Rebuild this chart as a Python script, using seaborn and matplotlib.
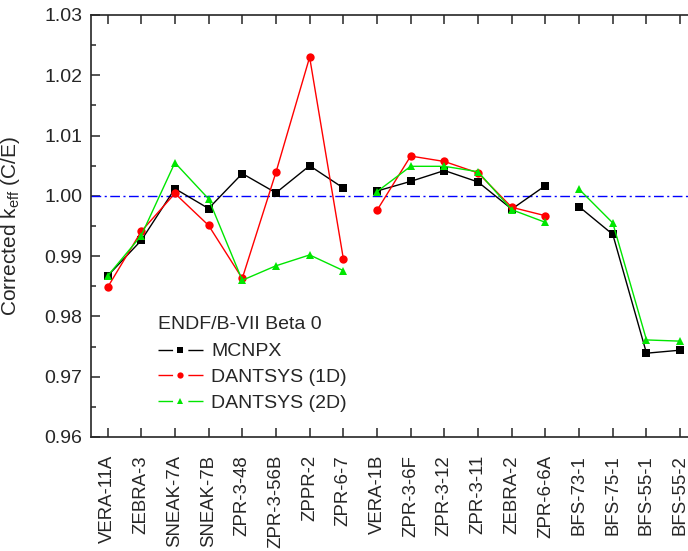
import numpy as np
import pandas as pd
import matplotlib
matplotlib.use("Agg")
import matplotlib.pyplot as plt
from matplotlib.lines import Line2D
from matplotlib.ticker import MultipleLocator
import seaborn as sns

# benchmark cases, in plotting order
cases = ["VERA-11A", "ZEBRA-3", "SNEAK-7A", "SNEAK-7B", "ZPR-3-48", "ZPR-3-56B",
         "ZPPR-2", "ZPR-6-7", "VERA-1B", "ZPR-3-6F", "ZPR-3-12", "ZPR-3-11",
         "ZEBRA-2", "ZPR-6-6A", "BFS-73-1", "BFS-75-1", "BFS-55-1", "BFS-55-2"]
# lines are broken between these groups
groups = [0] * 8 + [1] * 6 + [2] * 4

mcnpx = [0.9867, 0.9926, 1.0012, 0.9979, 1.0037, 1.0005, 1.0050, 1.0013,
         1.0008, 1.0024, 1.0042, 1.0023, 0.9978, 1.0017,
         0.9982, 0.9936, 0.9739, 0.9744]
dantsys_1d = [0.9848, 0.9941, 1.0004, 0.9951, 0.9863, 1.0039, 1.0230, 0.9896,
              0.9976, 1.0066, 1.0057, 1.0038, 0.9981, 0.9967,
              None, None, None, None]
dantsys_2d = [0.9867, 0.9934, 1.0055, 0.9995, 0.9860, 0.9884, 0.9902, 0.9876,
              1.0007, 1.0049, 1.0049, 1.0040, 0.9977, 0.9956,
              1.0011, 0.9955, 0.9761, 0.9759]

series = {"MCNPX": mcnpx, "DANTSYS (1D)": dantsys_1d, "DANTSYS (2D)": dantsys_2d}
colors = {"MCNPX": "black", "DANTSYS (1D)": "#ff0000", "DANTSYS (2D)": "#00e600"}
markers = {"MCNPX": "s", "DANTSYS (1D)": "o", "DANTSYS (2D)": "^"}

rows = []
for name, vals in series.items():
    for i, v in enumerate(vals):
        if v is not None:
            rows.append({"pos": i, "keff": v, "code": name, "group": groups[i]})
df = pd.DataFrame(rows)

sns.set_style("ticks")
plt.rcParams["font.family"] = ["Liberation Sans", "DejaVu Sans"]
plt.rcParams["mathtext.fontset"] = "custom"
plt.rcParams["mathtext.rm"] = "Liberation Sans"

fig = plt.figure(figsize=(6.88, 5.51), dpi=100)
ax = fig.add_axes([0.1318, 0.2069, 0.8813, 0.7659])

ax.axhline(1.0, color="blue", ls=(0, (7, 2.5, 1.5, 2.5)), lw=1, zorder=1)

sns.lineplot(data=df, x="pos", y="keff", hue="code", style="code", units="group",
             estimator=None, sort=False, palette=colors, markers=markers,
             dashes=False, linewidth=1, markersize=6, markeredgewidth=0,
             legend=False, ax=ax, zorder=3)

ax.set_xlim(-0.5, 17.5)
ax.set_ylim(0.96, 1.03)
ax.set_xticks(range(len(cases)))
ax.set_xticklabels(cases, rotation=90)
ax.yaxis.set_major_locator(MultipleLocator(0.01))
ax.yaxis.set_minor_locator(MultipleLocator(0.005))
ax.yaxis.set_major_formatter(plt.FormatStrFormatter("%.2f"))
ax.tick_params(axis="both", which="both", direction="in", top=True, right=True, width=1.1)
ax.tick_params(axis="both", which="major", length=6.5)
ax.tick_params(axis="y", which="minor", length=3.5)
ax.tick_params(axis="x", pad=13, labelsize=13.4)
ax.tick_params(axis="y", pad=6, labelsize=14)
for s in ax.spines.values():
    s.set_linewidth(1.2)

ax.set_xlabel("")
ax.set_ylabel(r"Corrected k$_{\mathregular{eff}}$ (C/E)", fontsize=15)
ax.yaxis.set_label_coords(-0.113, 0.5)

# legend handles: line broken around the marker
handles = [Line2D([], [], color=colors[n], marker=markers[n], markersize=4.5,
                  markeredgewidth=0, lw=1, ls=(0, (10.5, 11, 30)))
           for n in series]
leg = ax.legend(handles, list(series), title="ENDF/B-VII Beta 0", frameon=False,
                loc="upper left", bbox_to_anchor=(158 / 688, 1 - 316 / 551),
                bbox_transform=fig.transFigure, fontsize=14, title_fontsize=14,
                handlelength=2.3, handletextpad=0.45, labelspacing=0.42,
                borderpad=0, borderaxespad=0, alignment="left")
leg._legend_box.sep = 7

fig.savefig("out.png", dpi=100)
